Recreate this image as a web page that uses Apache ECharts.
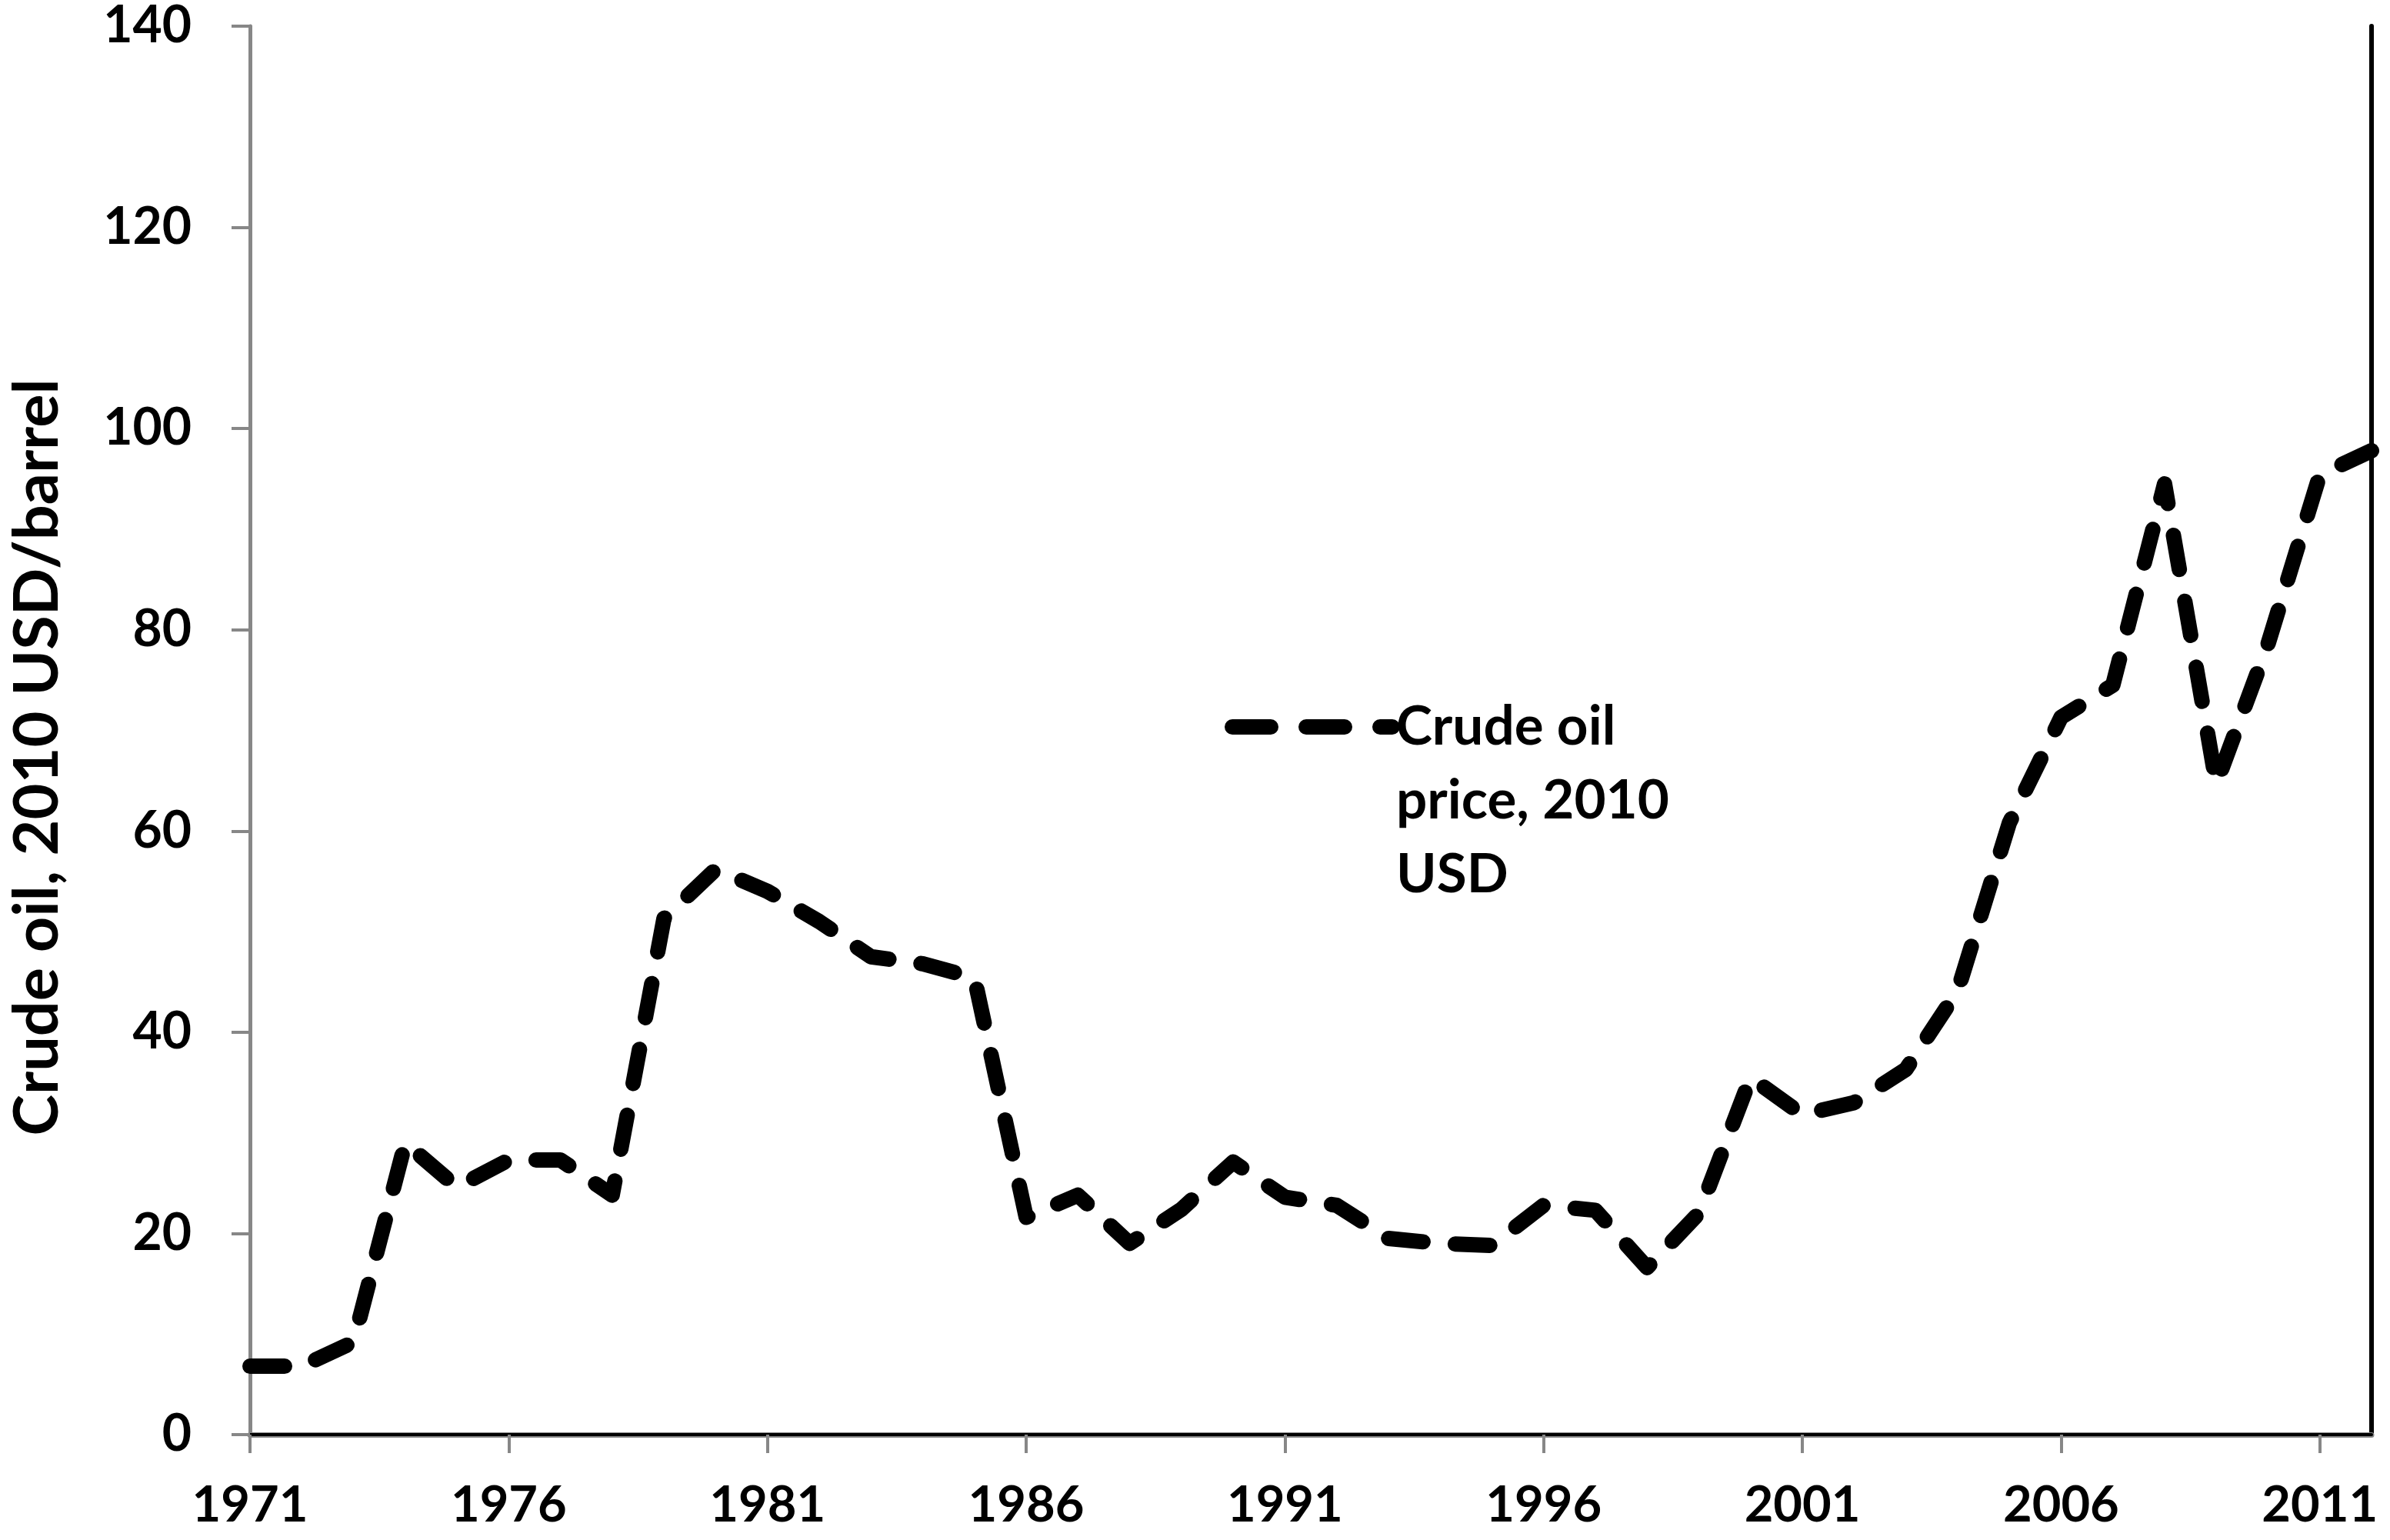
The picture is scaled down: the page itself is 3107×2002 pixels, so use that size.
<!DOCTYPE html>
<html>
<head>
<meta charset="utf-8">
<script src="https://cdn.jsdelivr.net/npm/echarts@6/dist/echarts.min.js"></script>
<style>
html,body{margin:0;padding:0;background:#ffffff;}
#chart{width:3107px;height:2002px;}
</style>
</head>
<body>
<div id="chart"></div>
<script>
const years = ['1971','1972','1973','1974','1975','1976','1977','1978','1979','1980',
  '1981','1982','1983','1984','1985','1986','1987','1988','1989','1990',
  '1991','1992','1993','1994','1995','1996','1997','1998','1999','2000',
  '2001','2002','2003','2004','2005','2006','2007','2008','2009','2010',
  '2011','2012'];
const crudePrice = [6.8, 6.8, 9.2, 29.0, 24.6, 27.3, 27.3, 23.8, 51.3, 56.2,
  54.0, 51.0, 47.5, 46.8, 45.4, 21.6, 23.8, 19.0, 22.4, 27.1,
  23.6, 22.8, 19.5, 19.0, 18.8, 22.8, 22.3, 16.6, 22.0, 35.5,
  31.8, 33.0, 36.3, 44.1, 60.8, 71.3, 74.5, 94.5, 64.7, 78.6,
  95.4, 97.8];
const seriesName = 'Crude oil\nprice, 2010\nUSD';
const yAxisTitle = 'Crude oil, 2010 USD/barrel';
const yMin = 0, yMax = 140, yStep = 20;

const FONT = 'Lato';
const GRAY = '#878787';
const chart = echarts.init(document.getElementById('chart'), null, {renderer: 'canvas'});
chart.setOption({
  backgroundColor: '#ffffff',
  animation: false,
  grid: {left: 322, right: 24, top: 34, bottom: 137, containLabel: false},
  legend: {
    show: true,
    left: 1592,
    top: 705,
    padding: 0,
    orient: 'vertical',
    itemWidth: 208,
    itemHeight: 20,
    data: [seriesName],
    formatter: function (name) { return '\n\n' + name; },
    lineStyle: {width: 20, type: [50, 46], cap: 'round', color: '#000000'},
    textStyle: {fontFamily: FONT, fontWeight: 'bold', fontSize: 71, color: '#000000', lineHeight: 96}
  },
  xAxis: [{
    type: 'category',
    data: years,
    boundaryGap: false,
    axisLine: {show: true, lineStyle: {color: GRAY, width: 7}},
    axisTick: {show: true, interval: 4, length: 24, lineStyle: {color: GRAY, width: 4}},
    axisLabel: {show: true, interval: 4, margin: 60, fontFamily: FONT, fontWeight: 'bold', fontSize: 65, color: '#000000'},
    splitLine: {show: false}
  }, {
    type: 'category',
    data: years,
    boundaryGap: false,
    position: 'top',
    axisLine: {show: true, lineStyle: {color: '#000000', width: 4}},
    axisTick: {show: false},
    axisLabel: {show: false},
    splitLine: {show: false}
  }],
  yAxis: [{
    type: 'value',
    min: yMin, max: yMax, interval: yStep,
    name: yAxisTitle,
    nameLocation: 'middle',
    nameGap: 236,
    nameRotate: 90,
    nameTextStyle: {fontFamily: FONT, fontWeight: 'bold', fontSize: 81, color: '#000000', padding: [0, 70, 0, 0]},
    axisLine: {show: true, lineStyle: {color: GRAY, width: 5}},
    axisTick: {show: true, length: 24, lineStyle: {color: GRAY, width: 4}},
    axisLabel: {show: true, margin: 76, fontFamily: FONT, fontWeight: 'bold', fontSize: 66, color: '#000000'},
    splitLine: {show: false}
  }, {
    type: 'value',
    min: yMin, max: yMax, interval: yStep,
    position: 'right',
    axisLine: {show: true, lineStyle: {color: '#000000', width: 6}},
    axisTick: {show: false},
    axisLabel: {show: false},
    splitLine: {show: false}
  }],
  series: [{
    name: seriesName,
    type: 'line',
    xAxisIndex: 0,
    yAxisIndex: 0,
    data: crudePrice,
    symbol: 'none',
    showSymbol: false,
    clip: false,
    z: 5,
    lineStyle: {color: '#000000', width: 20, type: [45, 42], cap: 'round', join: 'round'},
    itemStyle: {color: '#000000'}
  }]
});
</script>
</body>
</html>
